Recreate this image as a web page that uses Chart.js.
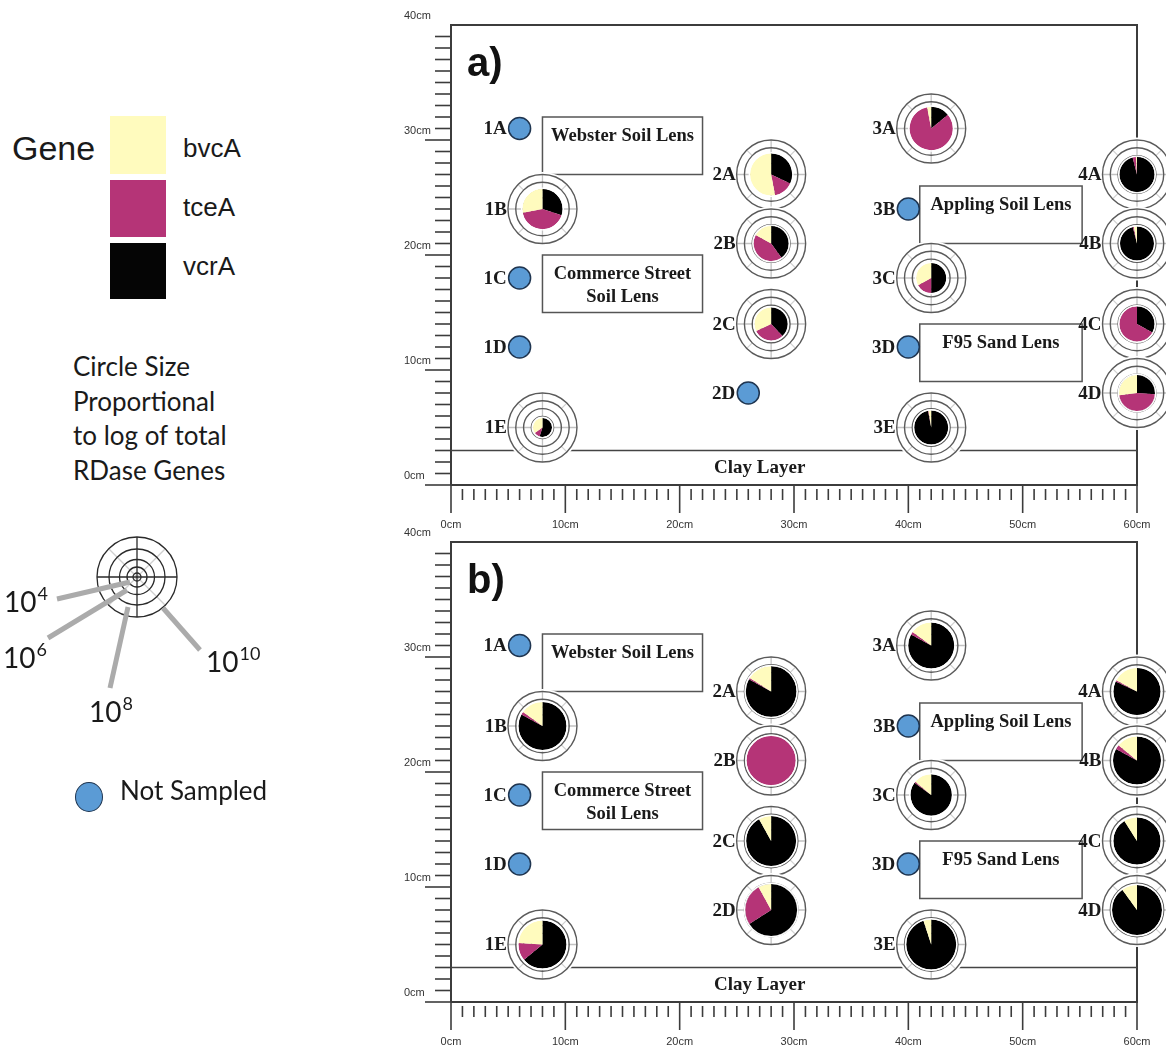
<!DOCTYPE html>
<html>
<head>
<meta charset="utf-8">
<title>RDase gene abundance in the soil tank</title>
<script src="https://cdn.jsdelivr.net/npm/chart.js@4.4.1/dist/chart.umd.min.js"></script>
<style>
  html, body { margin: 0; padding: 0; background: #fff; }
  #figure { position: relative; width: 1166px; height: 1046px; overflow: hidden; background: #fff; }
  .txt { position: absolute; white-space: nowrap; color: #1a1a1a; }
  .arial { font-family: "Liberation Sans", Arial, sans-serif; }
  .soft { font-family: Lato, "Open Sans", sans-serif; font-size: 26px; line-height: 30px; }
  .swatch { position: absolute; left: 110px; width: 56px; }
  .sup { font-size: 18px; position: relative; top: -12px; margin-left: 1px; }
  canvas { position: absolute; }
</style>
</head>
<body>
<div id="figure">
  <!-- gene colour key -->
  <div class="txt arial" style="left:12px; top:128px; font-size:34px; line-height:40px;">Gene</div>
  <div class="swatch" style="top:116px; height:58px; background:#FFFBBE;"></div>
  <div class="swatch" style="top:180px; height:57px; background:#B53477;"></div>
  <div class="swatch" style="top:243px; height:56px; background:#050505;"></div>
  <div class="txt arial" style="left:183px; top:133px; font-size:26px; line-height:30px;">bvcA</div>
  <div class="txt arial" style="left:183px; top:192px; font-size:26px; line-height:30px;">tceA</div>
  <div class="txt arial" style="left:183px; top:251px; font-size:26px; line-height:30px;">vcrA</div>

  <!-- size key -->
  <div class="txt soft" style="left:73px; top:351px;">Circle Size</div>
  <div class="txt soft" style="left:73px; top:386px;">Proportional</div>
  <div class="txt soft" style="left:73px; top:420px;">to log of total</div>
  <div class="txt soft" style="left:73px; top:455px;">RDase Genes</div>

  <canvas id="sizeKey" width="280" height="210" style="left:0; top:520px;"></canvas>
  <div class="txt soft" style="left:4px; top:586px; font-size:28px;">10<span class="sup">4</span></div>
  <div class="txt soft" style="left:3px; top:642px; font-size:28px;">10<span class="sup">6</span></div>
  <div class="txt soft" style="left:89px; top:696px; font-size:28px;">10<span class="sup">8</span></div>
  <div class="txt soft" style="left:206px; top:646px; font-size:28px;">10<span class="sup">10</span></div>

  <div style="position:absolute; left:75px; top:782px; width:26px; height:28px; border-radius:50%; background:#5B9BD5; border:1.5px solid #1f3550;"></div>
  <div class="txt soft" style="left:120px; top:775px; font-size:26px;">Not Sampled</div>

  <canvas id="panelA" width="766" height="540" style="left:400px; top:0;"></canvas>
  <canvas id="panelB" width="766" height="529" style="left:400px; top:517px;"></canvas>
</div>

<script>
// ---- sampling ports in the tank (cm from the left wall / tank bottom) ----
const portIds = ['1A','1B','1C','1D','1E','2A','2B','2C','2D','3A','3B','3C','3D','3E','4A','4B','4C','4D'];
const portX   = [8, 8, 8, 8, 8, 28, 28, 28, 28, 42, 42, 42, 42, 42, 60, 60, 60, 60];
const portY   = [31, 24, 18, 12, 5, 27, 21, 14, 8, 31, 24, 18, 12, 5, 27, 21, 14, 8];

// ---- a) first sampling: log10 total RDase copies and gene shares (%) ----
const logTotalA = [null, 6.3, null, null, 3.6, 6.55, 5.65, 5.4, null, 6.7, null, 5.0, null, 5.5, 5.65, 5.5, 5.65, 5.75];
const vcrA_A    = [null, 30, null, null, 55, 32, 40, 38, null, 14, null, 50, null, 97, 96, 96, 33, 26];
const tceA_A    = [null, 42, null, null, 10, 15, 43, 30, null, 83, null, 17, null, 0.5, 3, 1, 67, 47];
const bvcA_A    = [null, 28, null, null, 35, 53, 17, 32, null, 3, null, 33, null, 2.5, 1, 3, 0, 27];

// ---- b) second sampling ----
const logTotalB = [null, 7.3, null, null, 7.3, 7.65, 7.45, 7.55, 7.8, 7.05, null, 6.45, null, 7.55, 7.2, 7.3, 7.2, 7.55];
const vcrA_B    = [null, 83, null, null, 64, 83, 0, 92, 66, 83, null, 85, null, 95, 82, 83, 91, 90];
const tceA_B    = [null, 2, null, null, 12, 1, 100, 0, 26, 2, null, 1, null, 0, 1, 3, 0, 0];
const bvcA_B    = [null, 15, null, null, 24, 16, 0, 8, 8, 15, null, 14, null, 5, 17, 14, 9, 10];

// ---- ruler labels ----
const xTickValues = [0, 10, 20, 30, 40, 50, 60];
const xTickLabels = ['0cm', '10cm', '20cm', '30cm', '40cm', '50cm', '60cm'];
const yTickValues = [0, 10, 20, 30, 40];
const yTickLabels = ['0cm', '10cm', '20cm', '30cm', '40cm'];

// ---- soil lenses (cm extents) ----
const lensNames = [['Webster Soil Lens'], ['Commerce Street', 'Soil Lens'], ['Appling Soil Lens'], ['F95 Sand Lens']];
const lensLeft   = [8, 8, 41, 41];
const lensRight  = [22, 22, 55.2, 55.2];
const lensBottom = [27, 15, 21, 9];
const lensTop    = [32, 20, 26, 14];
const clayDepth = 3;

// ---- styling ----
const geneColors = ['#000000', '#B53477', '#FFFBBE'];   // vcrA, tceA, bvcA (clockwise from 12 o'clock)
const RING_LEVELS = [4, 6, 8, 10];                        // log10 copies marked by grid rings
const SKIPPED_SHIFT = 2;                                  // unsampled marker sits 2 cm left of the port
const serif = '"Liberation Serif", "Times New Roman", serif';
const sans = '"Liberation Sans", Arial, sans-serif';

function glyphRadius(logCopies) { return 3.9 * logCopies - 4.5; }

function drawGlyph(ctx, cx, cy, logCopies, shares) {
  const R = glyphRadius(10);
  const r8 = glyphRadius(8);
  ctx.save();
  ctx.beginPath();
  ctx.arc(cx, cy, R + 2.5, 0, Math.PI * 2);
  ctx.fillStyle = '#fff';
  ctx.fill();
  // spokes
  ctx.lineWidth = 1.3;
  ctx.strokeStyle = '#c2c2c2';
  for (let k = 0; k < 4; k++) {
    const a = k * Math.PI / 2;
    ctx.beginPath();
    ctx.moveTo(cx, cy);
    ctx.lineTo(cx + R * Math.cos(a), cy + R * Math.sin(a));
    ctx.stroke();
  }
  ctx.strokeStyle = '#d2d2d2';
  for (let k = 0; k < 4; k++) {
    const a = Math.PI / 4 + k * Math.PI / 2;
    ctx.beginPath();
    ctx.moveTo(cx + r8 * Math.cos(a), cy + r8 * Math.sin(a));
    ctx.lineTo(cx + R * Math.cos(a), cy + R * Math.sin(a));
    ctx.stroke();
  }
  // rings
  ctx.strokeStyle = '#5a5a5a';
  ctx.lineWidth = 1.4;
  RING_LEVELS.forEach(l => {
    ctx.beginPath();
    ctx.arc(cx, cy, glyphRadius(l), 0, Math.PI * 2);
    ctx.stroke();
  });
  // pie of gene shares
  const r = glyphRadius(logCopies);
  const total = shares.reduce((s, v) => s + v, 0);
  let a0 = -Math.PI / 2;
  shares.forEach((v, i) => {
    if (!v) return;
    const a1 = a0 + v / total * Math.PI * 2;
    ctx.beginPath();
    ctx.moveTo(cx, cy);
    ctx.arc(cx, cy, r, a0, a1);
    ctx.closePath();
    ctx.fillStyle = geneColors[i];
    ctx.fill();
    a0 = a1;
  });
  ctx.beginPath();
  ctx.arc(cx, cy, r + 0.8, 0, Math.PI * 2);
  ctx.strokeStyle = '#fff';
  ctx.lineWidth = 1.4;
  ctx.stroke();
  ctx.restore();
}

const tankPlugin = {
  id: 'tank',
  beforeDatasetsDraw(chart, args, opts) {
    const { ctx, scales: { x, y } } = chart;
    const X = v => x.getPixelForValue(v);
    const Y = v => y.getPixelForValue(v);
    ctx.save();
    ctx.strokeStyle = '#3c3c3c';
    ctx.lineWidth = 1.6;
    // vertical ruler
    for (let v = 0; v < 40; v++) {
      const major = v % 10 === 0;
      ctx.beginPath();
      ctx.moveTo(X(0) - (major ? 26 : 16), Y(v));
      ctx.lineTo(X(0), Y(v));
      ctx.stroke();
    }
    // horizontal ruler
    for (let v = 0; v <= 60; v++) {
      const major = v % 10 === 0;
      ctx.beginPath();
      ctx.moveTo(X(v), Y(0) + (major ? 0 : 4));
      ctx.lineTo(X(v), Y(0) + (major ? 28 : 15));
      ctx.stroke();
    }
    // tank frame
    ctx.lineWidth = 2;
    ctx.beginPath();
    ctx.moveTo(X(0), Y(0)); ctx.lineTo(X(0), Y(40)); ctx.lineTo(X(60), Y(40)); ctx.lineTo(X(60), Y(0)); ctx.lineTo(X(0), Y(0));
    ctx.stroke();
    // ruler labels
    ctx.fillStyle = '#333';
    ctx.font = '11px ' + sans;
    ctx.textBaseline = 'middle';
    ctx.textAlign = 'left';
    yTickValues.forEach((v, i) => ctx.fillText(yTickLabels[i], X(0) - 47, Y(v) - 9));
    ctx.textAlign = 'center';
    xTickValues.forEach((v, i) => ctx.fillText(xTickLabels[i], X(v), Y(0) + 40));
    // clay layer
    ctx.strokeStyle = '#444';
    ctx.lineWidth = 1.6;
    ctx.beginPath();
    ctx.moveTo(X(0), Y(clayDepth)); ctx.lineTo(X(60), Y(clayDepth));
    ctx.stroke();
    ctx.fillStyle = '#1a1a1a';
    ctx.font = 'bold 19px ' + serif;
    ctx.fillText('Clay Layer', X(27), Y(1.5));
    // soil lenses
    ctx.strokeStyle = '#555';
    ctx.lineWidth = 1.5;
    ctx.font = 'bold 18.5px ' + serif;
    lensNames.forEach((lines, i) => {
      const l = X(lensLeft[i]), r = X(lensRight[i]), t = Y(lensTop[i]), b = Y(lensBottom[i]);
      ctx.strokeRect(l, t, r - l, b - t);
      lines.forEach((s, k) => ctx.fillText(s, (l + r) / 2, t + 19 + k * 23));
    });
    // panel letter
    ctx.textAlign = 'left';
    ctx.textBaseline = 'alphabetic';
    ctx.font = 'bold 40px ' + sans;
    ctx.fillStyle = '#111';
    ctx.fillText(opts.letter, X(0) + 16, Y(40) + 51);
    ctx.restore();
  },
  afterDatasetsDraw(chart) {
    const ctx = chart.ctx;
    ctx.save();
    ctx.font = 'bold 19px ' + serif;
    ctx.fillStyle = '#1a1a1a';
    ctx.textAlign = 'right';
    ctx.textBaseline = 'middle';
    // sampled ports: pie glyphs
    const glyphSet = chart.data.datasets[1];
    chart.getDatasetMeta(1).data.forEach((pt, i) => {
      const d = glyphSet.data[i];
      drawGlyph(ctx, pt.x, pt.y, d.log, d.shares);
      ctx.fillText(d.id, pt.x - glyphRadius(10) - 1, pt.y + 1);
    });
    // unsampled ports
    const skipSet = chart.data.datasets[0];
    chart.getDatasetMeta(0).data.forEach((pt, i) => {
      ctx.fillText(skipSet.data[i].id, pt.x - 13, pt.y + 1);
    });
    ctx.restore();
  }
};

function panelData(logTotal, vcr, tce, bvc) {
  const skipped = [], sampled = [];
  portIds.forEach((id, i) => {
    if (logTotal[i] === null) {
      skipped.push({ x: portX[i] - SKIPPED_SHIFT, y: portY[i], id });
    } else {
      sampled.push({ x: portX[i], y: portY[i], id, log: logTotal[i], shares: [vcr[i], tce[i], bvc[i]] });
    }
  });
  return {
    datasets: [
      { label: 'Not Sampled', data: skipped, pointStyle: 'circle', pointRadius: 11, pointHoverRadius: 11,
        backgroundColor: '#5B9BD5', borderColor: '#1f3550', borderWidth: 1.5, clip: false },
      { label: 'RDase genes', data: sampled, pointRadius: 0, pointHoverRadius: 0, clip: false }
    ]
  };
}

function makePanel(id, letter, height, logTotal, vcr, tce, bvc) {
  return new Chart(document.getElementById(id), {
    type: 'scatter',
    data: panelData(logTotal, vcr, tce, bvc),
    options: {
      responsive: false,
      animation: false,
      devicePixelRatio: 1,
      events: [],
      layout: { padding: { left: 51, top: 25, right: 29, bottom: height - 485 } },
      scales: {
        x: { type: 'linear', min: 0, max: 60, display: false },
        y: { type: 'linear', min: 0, max: 40, display: false }
      },
      plugins: { legend: { display: false }, tooltip: { enabled: false }, tank: { letter } }
    },
    plugins: [tankPlugin]
  });
}

makePanel('panelA', 'a)', 540, logTotalA, vcrA_A, tceA_A, bvcA_A);
makePanel('panelB', 'b)', 529, logTotalB, vcrA_B, tceA_B, bvcA_B);

// ---- size key glyph with leader lines ----
(function drawSizeKey() {
  const c = document.getElementById('sizeKey').getContext('2d');
  const cx = 137, cy = 57;
  const radii = [4, 10, 17.5, 28, 40];
  c.beginPath(); c.arc(cx, cy, 41, 0, Math.PI * 2); c.fillStyle = '#fff'; c.fill();
  c.strokeStyle = '#cfcfcf'; c.lineWidth = 1.3;
  for (let k = 0; k < 4; k++) {
    const a = Math.PI / 4 + k * Math.PI / 2;
    c.beginPath(); c.moveTo(cx, cy); c.lineTo(cx + 40 * Math.cos(a), cy + 40 * Math.sin(a)); c.stroke();
  }
  c.strokeStyle = '#2a2a2a'; c.lineWidth = 1.3;
  c.beginPath();
  c.moveTo(cx - 40, cy); c.lineTo(cx + 40, cy);
  c.moveTo(cx, cy - 40); c.lineTo(cx, cy + 40);
  c.stroke();
  radii.forEach(r => { c.beginPath(); c.arc(cx, cy, r, 0, Math.PI * 2); c.stroke(); });
  c.strokeStyle = '#ababab'; c.lineWidth = 5; c.lineCap = 'butt';
  [[57, 79, 130, 62], [48, 118, 127, 70], [110, 168, 128, 87], [200, 130, 163, 88]].forEach(s => {
    c.beginPath(); c.moveTo(s[0], s[1]); c.lineTo(s[2], s[3]); c.stroke();
  });
})();
</script>
</body>
</html>
